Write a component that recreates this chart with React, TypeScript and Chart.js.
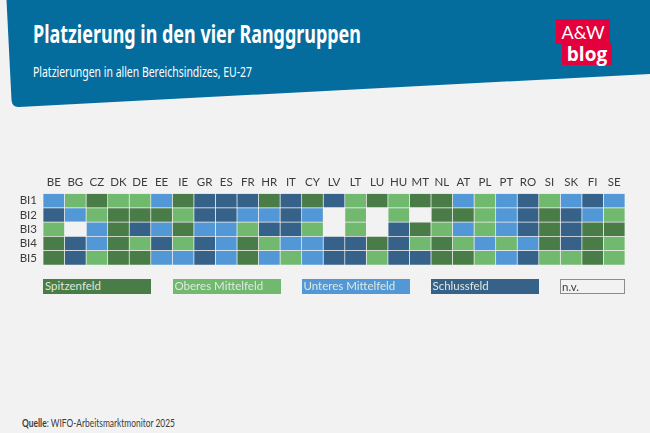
import React, { useEffect, useRef } from "react";
import { Chart, registerables } from "chart.js";

Chart.register(...registerables);

const countries = ["BE","BG","CZ","DK","DE","EE","IE","GR","ES","FR","HR","IT","CY","LV","LT","LU","HU","MT","NL","AT","PL","PT","RO","SI","SK","FI","SE"];
const indices = ["BI1","BI2","BI3","BI4","BI5"];
// 1 Spitzenfeld, 2 Oberes Mittelfeld, 3 Unteres Mittelfeld, 4 Schlussfeld, 0 n.v.
const bi1 = [3,2,1,2,2,3,1,4,4,4,1,4,1,4,2,1,2,1,1,3,2,3,4,2,3,4,3];
const bi2 = [4,3,2,1,1,1,2,4,4,3,3,4,3,0,2,0,2,0,1,1,2,3,4,1,4,3,2];
const bi3 = [2,0,3,1,4,3,1,3,3,2,4,4,2,0,2,0,4,1,2,3,2,3,4,1,4,1,1];
const bi4 = [1,4,3,1,2,4,2,4,3,1,2,3,3,4,4,1,4,2,1,2,3,2,3,1,4,1,2];
const bi5 = [1,4,2,1,1,3,3,4,3,1,3,2,3,4,4,2,4,4,1,1,2,3,4,2,2,1,2];
const rows = [bi1, bi2, bi3, bi4, bi5];
const rankColors = ["#f2f2f2", "#4a7c47", "#70b96f", "#5297d6", "#366289"];
const legendLabels = ["Spitzenfeld", "Oberes Mittelfeld", "Unteres Mittelfeld", "Schlussfeld", "n.v."];
const legendLefts = [43, 172.5, 301.5, 430.5, 560];

const axisFont = { family: "Lato", size: 11.5 };

export default function App() {
  const ref = useRef<HTMLCanvasElement>(null);
  useEffect(() => {
    document.body.style.margin = "0";
    document.body.style.background = "#f2f2f2";
    const chart = new Chart(ref.current!, {
      type: "bar",
      data: {
        labels: indices,
        datasets: countries.map((c, i) => ({
          label: c,
          data: indices.map(() => 1),
          backgroundColor: rows.map((r) => rankColors[r[i]]),
          borderColor: "rgba(242,242,242,0.55)",
          borderWidth: rows.map((r) => (r[i] === 0 ? 0 : 0.7)),
          borderSkipped: false,
          categoryPercentage: 1,
          barPercentage: 1,
        })),
      },
      options: {
        indexAxis: "y",
        responsive: false,
        animation: false,
        devicePixelRatio: 1,
        layout: { padding: { left: 0, right: 25, top: 173.5, bottom: 168 } },
        plugins: { legend: { display: false }, tooltip: { enabled: false }, title: { display: false } },
        scales: {
          x: {
            type: "linear",
            position: "top",
            stacked: true,
            min: 0,
            max: countries.length,
            grid: { display: false, drawTicks: false },
            border: { display: false },
            afterBuildTicks: (axis: any) => {
              axis.ticks = countries.map((_, i) => ({ value: i + 0.5 }));
            },
            afterFit: (axis: any) => { axis.height = 20; },
            ticks: {
              autoSkip: false,
              maxRotation: 0,
              padding: 4,
              color: "#3c3c3c",
              font: axisFont,
              callback: (v: any) => countries[Math.floor(Number(v))],
            },
          },
          y: {
            type: "category",
            stacked: true,
            grid: { display: false, drawTicks: false },
            border: { display: false },
            afterFit: (axis: any) => { axis.width = 43; },
            ticks: { autoSkip: false, color: "#3c3c3c", font: axisFont, padding: 6 },
          },
        },
      } as any,
    });
    return () => chart.destroy();
  }, []);

  return (
    <div style={{ position: "relative", width: 650, height: 433, overflow: "hidden", background: "#f2f2f2" }}>
      <svg width={650} height={433} style={{ position: "absolute", left: 0, top: 0 }}>
        <path d="M6.5 0 L650 0 L650 74 L19 107 Q12 107.5 11.5 100 Z" fill="#046d9e" />
        <text x={33} y={43} fill="#fff" fontFamily="'Noto Sans'" fontWeight={700} fontSize={25} textLength={328} lengthAdjust="spacingAndGlyphs">
          Platzierung in den vier Ranggruppen
        </text>
        <text x={33} y={77} fill="#fff" fontFamily="'Noto Sans'" fontSize={14} textLength={219} lengthAdjust="spacingAndGlyphs">
          Platzierungen in allen Bereichsindizes, EU-27
        </text>
        <rect x={556} y={19} width={54} height={25} fill="#e2003d" />
        <rect x={562} y={43} width={50} height={22} fill="#e2003d" />
        <text x={583} y={39} textAnchor="middle" fill="#fff" fontFamily="Lato" fontSize={18}>A&amp;W</text>
        <text x={587} y={61} textAnchor="middle" fill="#fff" fontFamily="'Open Sans'" fontWeight={700} fontSize={19}>blog</text>
        <text x={22} y={427} fill="#3c3c3c" fontFamily="Lato" fontSize={10.5} textLength={153} lengthAdjust="spacingAndGlyphs">
          <tspan fontWeight={700}>Quelle</tspan>: WIFO-Arbeitsmarktmonitor 2025
        </text>
      </svg>
      <canvas ref={ref} width={650} height={433} style={{ position: "absolute", left: 0, top: 0, display: "block" }} />
      {legendLabels.map((label, i) => {
        const rank = i === 4 ? 0 : i + 1;
        const isNv = rank === 0;
        return (
          <div
            key={label}
            style={{
              position: "absolute",
              left: legendLefts[i],
              top: 279,
              width: isNv ? 65 : 108,
              height: 15,
              boxSizing: "border-box",
              background: rankColors[rank],
              border: isNv ? "1px solid #8c8c8c" : "none",
              color: isNv ? "#3c3c3c" : "#dfe9df",
              font: "11.5px/14px Lato",
              paddingLeft: isNv ? 1 : 2,
              whiteSpace: "nowrap",
            }}
          >
            {label}
          </div>
        );
      })}
    </div>
  );
}
